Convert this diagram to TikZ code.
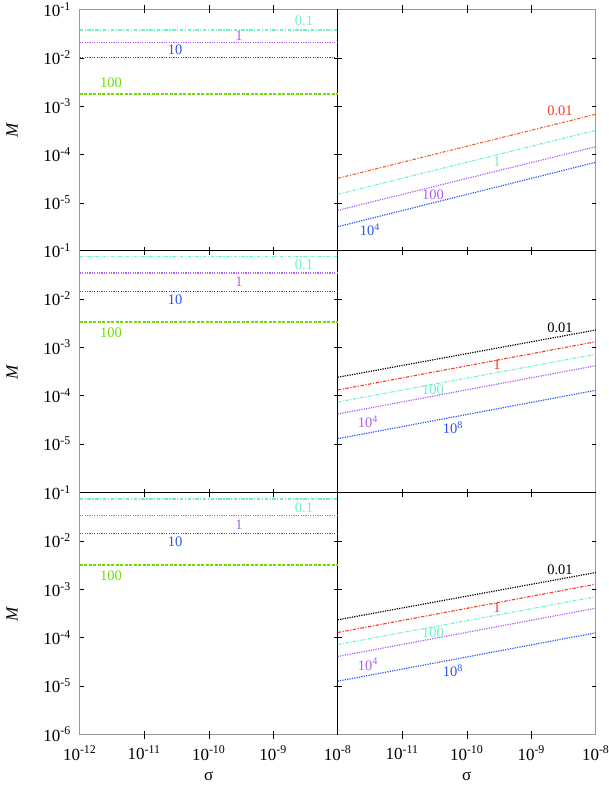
\documentclass[tikz,border=0pt]{standalone}
\usepackage{fontspec}
\setmainfont{Liberation Serif}
\definecolor{aqua}{RGB}{110,240,200}
\definecolor{lila}{RGB}{175,95,240}
\definecolor{blau}{RGB}{40,85,240}
\definecolor{gruen}{RGB}{110,220,0}
\definecolor{rot}{RGB}{240,60,40}
\definecolor{orot}{RGB}{245,95,45}
\newcommand{\tp}[1]{10\textsuperscript{#1}}
\tikzset{
  dd/.style={line width=1.1pt, dash pattern=on 3.5pt off 1.5pt on 1.2pt off 1.5pt},
  dt/.style={line width=1.2pt, dash pattern=on 1.2pt off 1.2pt},
  ds/.style={line width=1.1pt, dash pattern=on 3pt off 1.5pt},
  lab/.style={font=\fontsize{14.5}{14.5}\selectfont, inner sep=0pt},
  tl/.style={font=\fontsize{17}{17}\selectfont, inner sep=1pt}
}
\begin{document}
\begin{tikzpicture}[x=1pt,y=-1pt]
			\useasboundingbox (0,0) rectangle (608,789);
			% frame
			\draw[gray!80, line width=1pt] (79.7,9.5) rectangle (595.7,734.7);
			\draw[line width=1pt] (79.7,250.5) -- (595.7,250.5) (79.7,492.7) -- (595.7,492.7) (337.7,9.5) -- (337.7,734.7);
			% ticks
			\foreach \t in {9.5,250.5,492.7}
			\foreach \d in {1,...,4}
			\draw (79.7,\t+48.3*\d) -- +(4,0) (337.7,\t+48.3*\d) -- +(-4,0) (337.7,\t+48.3*\d) -- +(4,0) (595.7,\t+48.3*\d) -- +(-4,0);
			\foreach \t in {9.5,250.5,492.7,734.7}
			\foreach \d in {1,2,3}
			\draw (79.7+64.5*\d,\t) -- +(0,4) (79.7+64.5*\d,\t) -- +(0,-4) (337.7+64.5*\d,\t) -- +(0,4) (337.7+64.5*\d,\t) -- +(0,-4);
			% y tick labels
			\foreach \t/\n in {9.5/5,250.5/5,492.7/6}
			\foreach \d in {1,...,\n}
			\node[tl, anchor=east] at (72,\t+48.3*\d-48.3) {\tp{-\d}};
			% x tick labels
			\draw
			(79.7,753) node[tl](xa){\tp{-12}} (144.2,753) node[tl](xb){\tp{-11}}
			(208.7,753) node[tl](xc){\tp{-10}} (273.2,753) node[tl](xd){\tp{-9}}
			(337.7,753) node[tl](xe){\tp{-8}} (402.2,753) node[tl](xf){\tp{-11}}
			(466.7,753) node[tl](xg){\tp{-10}} (531.2,753) node[tl](xh){\tp{-9}}
			(595.7,753) node[tl](xi){\tp{-8}};
			\draw
			(208.7,776) node[tl](sa){σ} (466.7,776) node[tl](sb){σ};
			\foreach \c/\m in {130/ma,372/mb,614/mc}
			\node[tl, rotate=90](\m) at (12,\c) {\textit{M}};
			
			% left panels
			\draw[aqua, dd] (79.7,30) -- (337.7,30) (79.7,256.3) -- (337.7,256.3) (79.7,499) -- (337.7,499);
			\draw[lila, dt] (79.7,42.7) -- (337.7,42.7) (79.7,273) -- (337.7,273) (79.7,515.3) -- (337.7,515.3);
			\draw[blau, dt] (79.7,57.3) -- (337.7,57.3) (79.7,291.3) -- (337.7,291.3) (79.7,533.3) -- (337.7,533.3);
			\draw[gruen, ds] (79.7,94) -- (337.7,94) (79.7,322) -- (337.7,322) (79.7,565) -- (337.7,565);
			\foreach \t/\s in {21/a,265/b,508/c}
			\node[lab, aqua](la\s) at (304,\t) {0.1};
			\foreach \t/\s in {36/a,282/b,525/c}
			\node[lab, lila](lb\s) at (239,\t) {1};
			\foreach \t/\s in {50/a,300/b,542/c}
			\node[lab, blau](lc\s) at (175,\t) {10};
			\foreach \t/\s in {83/a,333/b,576/c}
			\node[lab, gruen](ld\s) at (111,\t) {100};
			
			% right panel, top
			\draw[orot, dd] (337.7,178.3) -- (595.7,114.3);
			\draw[aqua, dd] (337.7,194.3) -- (595.7,130.3);
			\draw[lila, dt] (337.7,210.3) -- (595.7,146.7);
			\draw[blau, dt] (337.7,226.7) -- (595.7,162.3);
			\draw
			(560,111) node[lab, rot](ra){0.01} (497,162) node[lab, aqua](rb){1}
			(433,195) node[lab, lila](rc){100} (370,230) node[lab, blau](rd){\tp{4}};
			
			% right panels, middle and bottom
			\foreach \o/\s in {0/b,242.5/c}{
			\draw[black, dt] (337.7,377.3+\o) -- (595.7,330+\o);
			\draw[rot, dd] (337.7,390+\o) -- (595.7,341.7+\o);
			\draw[aqua, dd] (337.7,402+\o) -- (595.7,354.3+\o);
			\draw[lila, dt] (337.7,414+\o) -- (595.7,365.7+\o);
			\draw[blau, dt] (337.7,438.7+\o) -- (595.7,390.3+\o);
			\draw
			(560,327.7+\o) node[lab](re\s){0.01} (497,365+\o) node[lab, rot](rf\s){1}
			(433,390+\o) node[lab, aqua](rg\s){100} (368,421.7+\o) node[lab, lila](rh\s){\tp{4}}
			(453,428+\o) node[lab, blau](ri\s){\tp{8}};
			}
			
		\end{tikzpicture}
\end{document}
